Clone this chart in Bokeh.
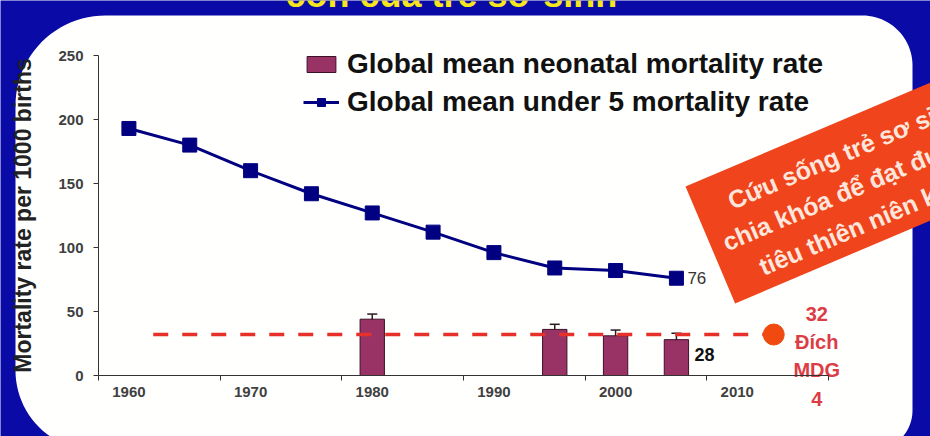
import math
from bokeh.plotting import figure
from bokeh.models import (Range1d, FixedTicker, Legend, LegendItem, PolyAnnotation,
                          Label, Whisker, TeeHead, ColumnDataSource)
from bokeh.core.properties import value
from bokeh.embed import file_html
from bokeh.resources import INLINE

# ---- data -------------------------------------------------------------
years = [1960, 1965, 1970, 1975, 1980, 1985, 1990, 1995, 2000, 2005]
under5_rate = [193, 180, 160, 142, 127, 112, 96, 84, 82, 76]

neonatal_years = [1980, 1995, 2000, 2005]
neonatal_rate = [44, 36, 31, 28]
neonatal_err = [4, 4, 4.5, 5]

mdg_goal = 32
mdg_span = [1962, 2013]
mdg_lines = ["32", "Đích", "MDG", "4"]

y_ticks = [0, 50, 100, 150, 200, 250]
x_label_years = [1960, 1970, 1980, 1990, 2000, 2010]
x_tick_marks = [1957.5, 1967.5, 1977.5, 1987.5, 1997.5, 2007.5, 2017.5]

title_fragment = "còn của trẻ sơ sinh"
banner_lines = ["Cứu sống trẻ sơ sinh", "chia khóa để đạt được mục", "tiêu thiên niên kỷ"]

# ---- styling ----------------------------------------------------------
FONT = "Liberation Sans"
BLUE = "#0A0AA6"
PANEL = "#FFFFFD"
NAVY = "#000080"
BAR = "#993366"
RED = "#E8302A"

W, H = 930, 436
# pixel box of the plotting area inside the slide
FL, FR, FT, FB = 98, 828, 55, 375
X0, X1 = 1957.5, 2017.5
Y0, Y1 = 0, 250


def dx(px):
    return X0 + (px - FL) * (X1 - X0) / (FR - FL)


def dy(py):
    return Y0 + (FB - py) * (Y1 - Y0) / (FB - FT)


# the frame spans the whole slide; axes are pinned with fixed_location
p = figure(width=W, height=H, x_range=Range1d(dx(0), dx(W)), y_range=Range1d(dy(H), dy(0)),
           output_backend="svg", toolbar_location=None, title=None,
           min_border_left=0, min_border_right=0, min_border_top=0, min_border_bottom=0,
           background_fill_color=PANEL, border_fill_color=PANEL,
           outline_line_color=None)
p.grid.visible = False

# ---- slide frame: blue surround with a rounded white panel ------------
L, T, R, B = 15, 15, 912, 450
r_tl, r_tr, r_br, r_bl = 90, 50, 40, 80


def arc(cx, cy, r, a0, a1, n=24):
    return [(cx + r * math.cos(math.radians(a0 + (a1 - a0) * i / n)),
             cy + r * math.sin(math.radians(a0 + (a1 - a0) * i / n))) for i in range(n + 1)]


inner = [(L, T + r_tl), (L, B - r_bl)]
inner += arc(L + r_bl, B - r_bl, r_bl, 180, 90)
inner += [(R - r_br, B)]
inner += arc(R - r_br, B - r_br, r_br, 90, 0)
inner += [(R, T + r_tr)]
inner += arc(R - r_tr, T + r_tr, r_tr, 0, -90)
inner += [(L + r_tl, T)]
inner += arc(L + r_tl, T + r_tl, r_tl, -90, -180)
outer = [(-10, -10), (W + 10, -10), (W + 10, H + 30), (-10, H + 30), (-10, -10)]
ring = outer + inner + [(-10, -10)]
p.patch(x=[dx(a) for a, _ in ring], y=[dy(b) for _, b in ring],
        fill_color=BLUE, line_color=None)

# title fragment along the top edge
p.add_layout(Label(x=dx(285), y=dy(-6), text=title_fragment, text_baseline="alphabetic",
                   text_font=FONT, text_font_style="bold", text_font_size="36px",
                   text_color="#F5E61E"))

# ---- axes -------------------------------------------------------------
for ax in (p.xaxis[0], p.yaxis[0]):
    ax.axis_line_color = "#333333"
    ax.axis_line_width = 1
    ax.major_label_text_font = FONT
    ax.major_label_text_font_style = "bold"
    ax.major_label_text_font_size = "15px"
    ax.major_label_text_color = "#404040"

p.xaxis.fixed_location = Y0
p.xaxis.bounds = (X0, X1)
p.xaxis.ticker = FixedTicker(ticks=x_label_years, minor_ticks=x_tick_marks)
p.xaxis.major_tick_line_color = None
p.xaxis.major_tick_out = 5
p.xaxis.major_tick_in = 0
p.xaxis.minor_tick_line_color = "#333333"
p.xaxis.minor_tick_out = 5
p.xaxis.minor_tick_in = 0
p.xaxis.major_label_standoff = 6

p.yaxis.fixed_location = X0
p.yaxis.bounds = (Y0, Y1)
p.yaxis.ticker = FixedTicker(ticks=y_ticks)
p.yaxis.major_tick_line_color = "#333333"
p.yaxis.major_tick_out = 5
p.yaxis.major_tick_in = 0
p.yaxis.minor_tick_line_color = None
p.yaxis.major_label_standoff = 10
p.yaxis.axis_label = "Mortality rate per 1000 births"
p.yaxis.axis_label_text_font = FONT
p.yaxis.axis_label_text_font_style = "bold"
p.yaxis.axis_label_text_font_size = "23px"
p.yaxis.axis_label_text_color = "#222222"
p.yaxis.axis_label_standoff = 19

# ---- series -----------------------------------------------------------
bar_src = ColumnDataSource(dict(
    x=neonatal_years, top=neonatal_rate,
    upper=[v + e for v, e in zip(neonatal_rate, neonatal_err)],
    lower=[v - e for v, e in zip(neonatal_rate, neonatal_err)],
))
bars = p.vbar(x="x", top="top", width=2, source=bar_src, fill_color=BAR,
              line_color="#3D1028", line_width=1)

p.add_layout(Whisker(base="x", upper="upper", lower="lower", source=bar_src,
                     line_color="#2A1A22", line_width=1.5,
                     upper_head=TeeHead(size=10, line_color="#2A1A22", line_width=1.5),
                     lower_head=TeeHead(size=10, line_color="#2A1A22", line_width=1.5)))

p.line(x=mdg_span, y=[mdg_goal, mdg_goal], line_color=RED, line_width=3.5,
       line_dash="15 14")
p.scatter(x=[mdg_span[1]], y=[mdg_goal], size=21, marker="circle",
          fill_color="#F04A10", line_color="#F04A10")

u5_line = p.line(x=years, y=under5_rate, line_color=NAVY, line_width=3)
u5_pts = p.scatter(x=years, y=under5_rate, marker="square", size=14,
                   fill_color=NAVY, line_color=NAVY)

# value labels
p.text(x=[years[-1]], y=[under5_rate[-1]], text=[str(under5_rate[-1])],
       x_offset=11, text_baseline="middle", text_align="left",
       text_font=value(FONT), text_font_size="17px", text_color="#333333")
p.text(x=[neonatal_years[-1]], y=[neonatal_rate[-1]], text=[str(neonatal_rate[-1])],
       x_offset=18, y_offset=15, text_baseline="middle", text_align="left",
       text_font=value(FONT), text_font_style="bold", text_font_size="18px",
       text_color="#111111")
p.text(x=[mdg_span[1]] * 4, y=[mdg_goal] * 4, text=mdg_lines,
       x_offset=43, y_offset=[-21, 7, 35, 64], text_baseline="middle",
       text_align="center", text_font=value(FONT), text_font_style="bold",
       text_font_size="20px", text_color="#DC3C46")

# ---- legend -----------------------------------------------------------
legend = Legend(items=[
    LegendItem(label="Global mean neonatal mortality rate", renderers=[bars]),
    LegendItem(label="Global mean under 5 mortality rate", renderers=[u5_line, u5_pts]),
], location=(303, 318), background_fill_alpha=0, border_line_color=None,
    label_text_font=FONT, label_text_font_style="bold", label_text_font_size="28px",
    label_text_color="#111111", glyph_width=36, glyph_height=20, spacing=6,
    padding=0, margin=0, label_standoff=8)
p.add_layout(legend)

# ---- tilted red banner ------------------------------------------------
ang = math.radians(23)
ux, uy = math.cos(ang), -math.sin(ang)
nx, ny = math.sin(ang), math.cos(ang)
tl = (685, 186)
bh = 127
bl = (tl[0] + nx * bh, tl[1] + ny * bh)
span = 420
banner = [tl, (tl[0] + ux * span, tl[1] + uy * span),
          (bl[0] + ux * span, bl[1] + uy * span), bl]
p.add_layout(PolyAnnotation(xs=[dx(a) for a, _ in banner], ys=[dy(b) for _, b in banner],
                            fill_color="#F0441C", fill_alpha=1, line_color=None,
                            level="overlay"))
for txt, along, perp in zip(banner_lines, [34, 13, 37], [31, 67, 104]):
    px = tl[0] + ux * along + nx * perp
    py = tl[1] + uy * along + ny * perp
    p.add_layout(Label(x=dx(px), y=dy(py), text=txt, angle=ang,
                       text_baseline="alphabetic", text_align="left",
                       text_font=FONT, text_font_style="bold", text_font_size="25px",
                       text_color="#FFE6DC", level="overlay"))

open("out.html", "w").write(file_html(p, INLINE))
